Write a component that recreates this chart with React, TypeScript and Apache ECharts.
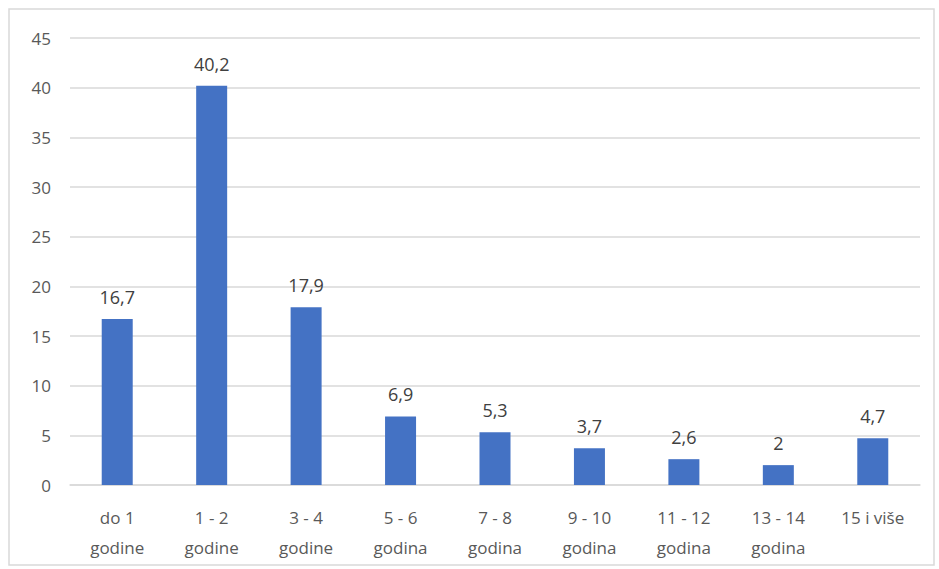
import React, { useEffect, useRef } from "react";
import * as echarts from "echarts";

const categories = [
  "do 1\ngodine",
  "1 - 2\ngodine",
  "3 - 4\ngodine",
  "5 - 6\ngodina",
  "7 - 8\ngodina",
  "9 - 10\ngodina",
  "11 - 12\ngodina",
  "13 - 14\ngodina",
  "15 i više",
];
const values = [16.7, 40.2, 17.9, 6.9, 5.3, 3.7, 2.6, 2, 4.7];
const yMin = 0;
const yMax = 45;
const yStep = 5;

export default function App() {
  const ref = useRef<HTMLDivElement>(null);
  useEffect(() => {
    if (!ref.current) return;
    const chart = echarts.init(ref.current, undefined, { renderer: "svg" });
    const font = "'Open Sans', 'Noto Sans', sans-serif";
    chart.setOption({
      animation: false,
      backgroundColor: "#ffffff",
      grid: { left: 70, right: 19, top: 38, bottom: 84, containLabel: false },
      xAxis: {
        type: "category",
        data: categories,
        axisLine: { lineStyle: { color: "#d9d9d9", width: 1.5 } },
        axisTick: { show: false },
        axisLabel: {
          color: "#595959",
          fontSize: 17,
          fontFamily: font,
          lineHeight: 30,
          margin: 17,
          interval: 0,
        },
      },
      yAxis: {
        type: "value",
        min: yMin,
        max: yMax,
        interval: yStep,
        axisLine: { show: false },
        axisTick: { show: false },
        splitLine: { lineStyle: { color: "#d9d9d9", width: 1.5 } },
        axisLabel: { color: "#595959", fontSize: 17, fontFamily: font, margin: 19 },
      },
      series: [
        {
          type: "bar",
          data: values,
          barWidth: 31,
          itemStyle: { color: "#4472c4" },
          label: {
            show: true,
            position: "top",
            distance: 13,
            color: "#404040",
            fontSize: 18,
            fontFamily: font,
            formatter: (p: any) => String(p.value).replace(".", ","),
          },
        },
      ],
      graphic: [
        {
          type: "rect",
          shape: { x: 9, y: 9, width: 925, height: 556 },
          style: { fill: "none", stroke: "#d9d9d9", lineWidth: 1.5 },
          silent: true,
        },
      ],
    });
    return () => chart.dispose();
  }, []);
  return (
    <div
      ref={ref}
      style={{ position: "fixed", left: 0, top: 0, width: 939, height: 569 }}
    />
  );
}
